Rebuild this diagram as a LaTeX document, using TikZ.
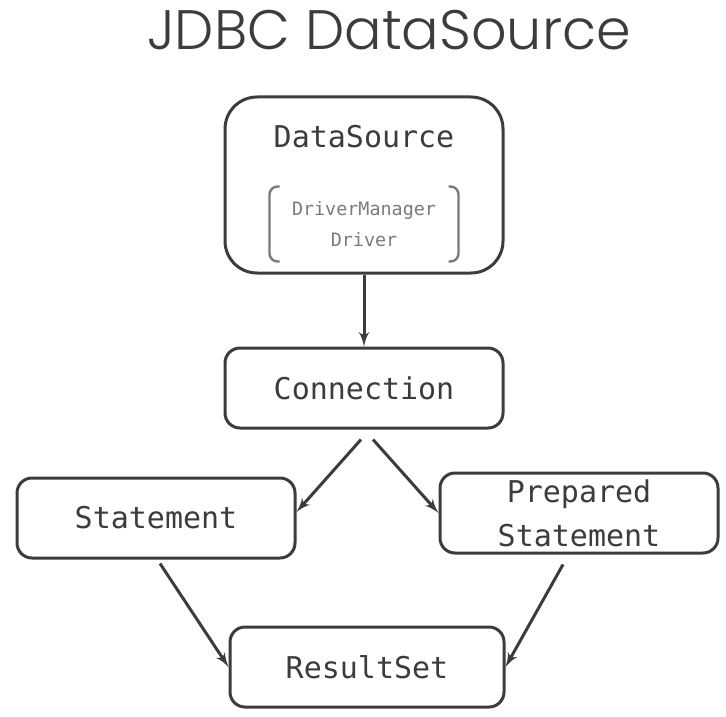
\documentclass[tikz,border=0pt]{standalone}
\usepackage{fontspec}
\setmonofont{DejaVu Sans Mono}
\newfontfamily\titlefont{Poppins Light}
\usetikzlibrary{arrows,positioning}
\definecolor{ink}{HTML}{3C3C3C}
\definecolor{soft}{HTML}{7A7A7A}

\begin{document}
\begin{tikzpicture}[node distance=3cm,auto,>=latex',line width=1.5pt,draw=ink]
		\tikzstyle{box} = [rectangle, draw=ink, rounded corners=7.5pt, minimum width=139pt, minimum height=40pt, inner sep=0pt, align=center, font=\ttfamily\fontsize{15}{22}\selectfont, text=ink]
		\tikzstyle{bigbox} = [box, rounded corners=16pt, minimum height=88pt]
		\tikzstyle{bracket} = [draw=soft, line width=1.2pt, rounded corners=4pt]
		\useasboundingbox (0,0) rectangle (363pt,-358pt);
		\node (title) at (194.5pt,-15pt) {\titlefont\fontsize{27.8}{30}\selectfont\color{ink}JDBC DataSource};
		\node (ds) [bigbox] at (182pt,-92.5pt) {};
		\node (dsname) at ([yshift=-20.5pt]ds.north) [font=\ttfamily\fontsize{15}{18}\selectfont, text=ink] {DataSource};
		\node (drv) at ([yshift=-19.5pt]ds.center) [minimum width=93pt, minimum height=36pt, inner sep=0pt, align=center, font=\ttfamily\fontsize{9.2}{15.5}\selectfont, text=soft] {DriverManager\\Driver};
		\draw[bracket] ([xshift=5pt]drv.north west) -- (drv.north west) -- (drv.south west) -- ([xshift=5pt]drv.south west);
		\draw[bracket] ([xshift=-5pt]drv.north east) -- (drv.north east) -- (drv.south east) -- ([xshift=-5pt]drv.south east);
		\node (conn) [box, below of=ds, node distance=101.5pt] {Connection};
		\node (stmt) [box, below of=conn, node distance=65pt, xshift=-104pt] {Statement};
		\node (prep) [box, below of=conn, node distance=62.5pt, xshift=107.5pt] {Prepared\\Statement};
		\node (rs) [box, below of=conn, node distance=139.5pt, xshift=1.5pt, minimum width=137pt] {ResultSet};
		\path[->,draw=ink] (ds) edge (conn);
		\draw[->,ink] ([xshift=-1.5pt,yshift=-5pt]conn.south) -- ([yshift=3pt]stmt.east);
		\draw[->,ink] ([xshift=4.5pt,yshift=-5pt]conn.south) -- (prep.west);
		\draw[->,ink] ([xshift=2pt,yshift=-2pt]stmt.south) -- (rs.west);
		\draw[->,ink] ([xshift=-8pt,yshift=-5pt]prep.south) -- (rs.east);
	\end{tikzpicture}
\end{document}
